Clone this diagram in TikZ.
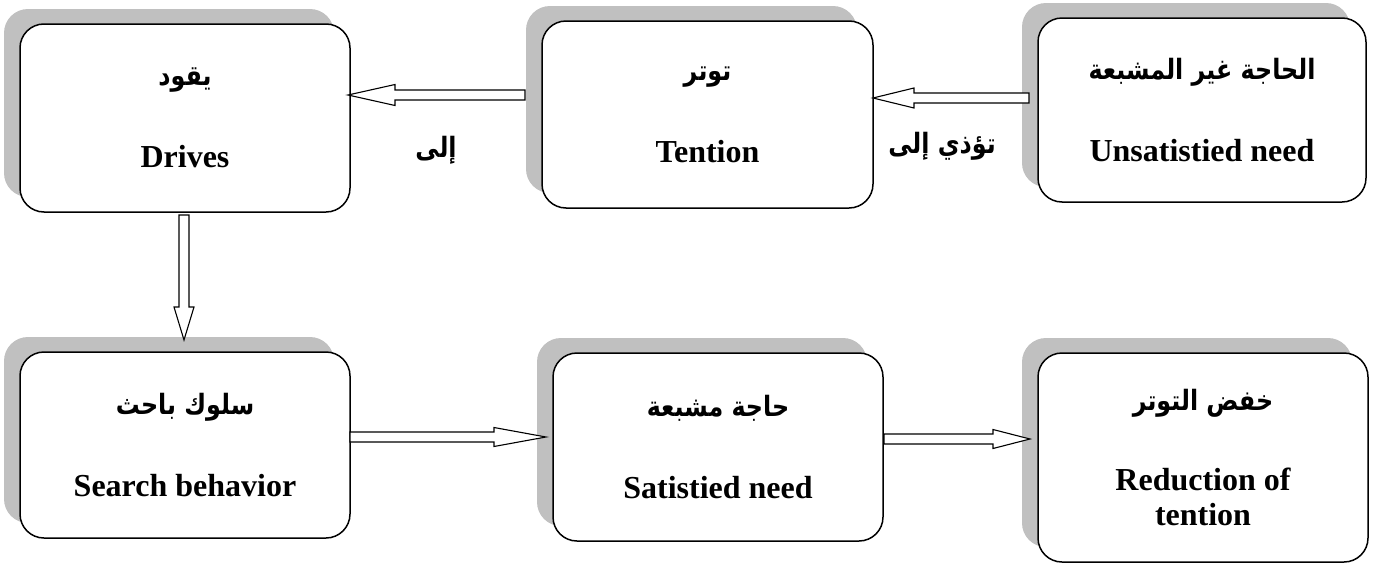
\documentclass[tikz,border=0pt]{standalone}
\usepackage{fontspec}
\setmainfont{Liberation Serif}
\newfontfamily\arabicfont[Script=Arabic]{DejaVu Sans}
\TeXXeTstate=1
\usetikzlibrary{calc,shadows}
\definecolor{shadowgray}{HTML}{C0C0C0}
\newcommand{\artext}[1]{{\arabicfont\bfseries\fontsize{28}{32}\selectfont\scalebox{0.85}[1]{\beginR #1\endR}}}
\newcommand{\entext}[1]{{\bfseries\fontsize{32}{38}\selectfont #1}}
\newcommand{\blockarr}[5]{%
  \coordinate (bh) at ($(#2)!#5!(#1)$);
  \draw[arrowbody] ($(#1)!#3!90:(#2)$) -- ($(bh)!#3!90:(#2)$) -- ($(bh)!#4!90:(#2)$) -- (#2)
    -- ($(bh)!#4!-90:(#2)$) -- ($(bh)!#3!-90:(#2)$) -- ($(#1)!#3!-90:(#2)$) -- cycle;}
\tikzset{
  box/.style={draw=black, line width=1.5pt, fill=white, rounded corners=24pt,
    inner sep=0pt, align=center, font=\fontsize{32}{38}\selectfont,
    general shadow={shadow xshift=-16pt, shadow yshift=15pt, fill=shadowgray, draw=none}},
  arrowbody/.style={draw=black, line width=1.1pt, fill=white, line join=miter},
  lbl/.style={inner sep=0pt}
}
\begin{document}
\begin{tikzpicture}[x=1pt,y=-1pt]
\useasboundingbox (0,0) rectangle (1373,565);
\node[box, minimum width=330pt, minimum height=188pt] (drives) at (185,118)
  {\artext{يقود}\\[44pt]\entext{Drives}};
\node[box, minimum width=331pt, minimum height=187pt] (tention) at (707.5,114.5)
  {\artext{توتر}\\[44pt]\entext{Tention}};
\node[box, minimum width=328pt, minimum height=184pt] (unsat) at (1202,110)
  {\artext{الحاجة غير المشبعة}\\[44pt]\entext{Unsatistied need}};
\node[box, minimum width=330pt, minimum height=186pt] (search) at (185,445)
  {\artext{سلوك باحث}\\[44pt]\entext{Search behavior}};
\node[box, minimum width=330pt, minimum height=188pt] (sat) at (718,447)
  {\artext{حاجة مشبعة}\\[44pt]\entext{Satistied need}};
\node[box, minimum width=330pt, minimum height=209pt] (reduc) at (1203,457.5)
  {\artext{خفض التوتر}\\[42pt]\entext{Reduction of}\\[-3pt]\entext{tention}};

\coordinate (a1s) at (525,95);   \coordinate (a1e) at (348,95);
\coordinate (a2s) at (1029,98);  \coordinate (a2e) at (873,98);
\coordinate (a3s) at (184,215);  \coordinate (a3e) at (184,340);
\coordinate (a4s) at (350,437);  \coordinate (a4e) at (546,437);
\coordinate (a5s) at (884,439);  \coordinate (a5e) at (1030,439);

\blockarr{a1s}{a1e}{5pt}{10.5pt}{47pt}
\blockarr{a2s}{a2e}{5pt}{10pt}{41pt}
\blockarr{a3s}{a3e}{5pt}{10pt}{33pt}
\blockarr{a4s}{a4e}{5pt}{9.5pt}{52pt}
\blockarr{a5s}{a5e}{5pt}{9.5pt}{37pt}

\node[lbl] (l1) at (436,150) {\artext{إلى}};
\node[lbl] (l2) at (942,146) {\artext{تؤذي إلى}};
\end{tikzpicture}
\end{document}
